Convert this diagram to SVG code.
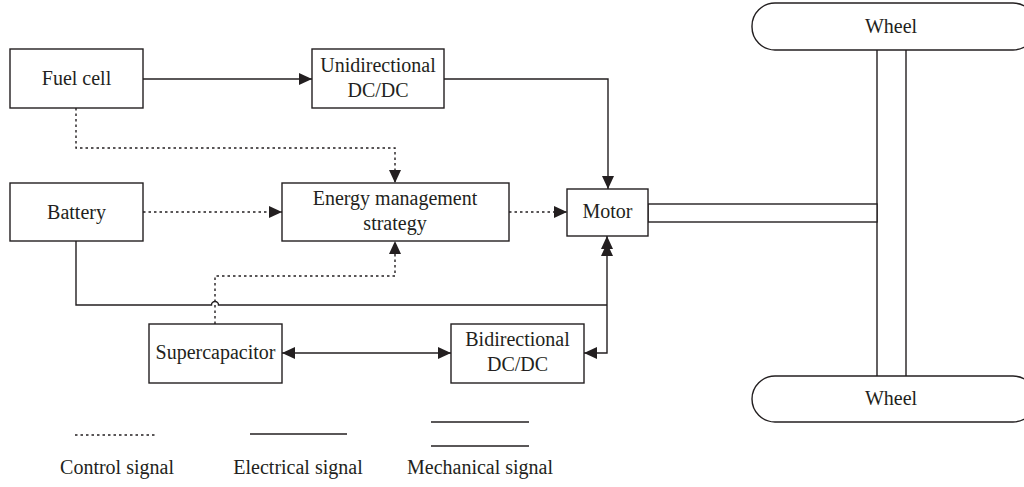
<svg xmlns="http://www.w3.org/2000/svg" width="1024" height="487" viewBox="0 0 1024 487">
<defs>
<marker id="ah" markerUnits="userSpaceOnUse" markerWidth="14" markerHeight="12" refX="13" refY="6" orient="auto-start-reverse">
<path d="M0,0 L13,6 L0,12 Z" fill="#231f20"/>
</marker>
<style>
.box{fill:#fff;stroke:#231f20;stroke-width:1.4}
.t{font-family:"Liberation Serif","DejaVu Serif","Times New Roman",serif;font-size:20px;fill:#231f20;text-anchor:middle}
.e{fill:none;stroke:#231f20;stroke-width:1.4}
.c{fill:none;stroke:#231f20;stroke-width:1.4;stroke-dasharray:2.5 3}
</style>
</defs>
<rect width="1024" height="487" fill="#fff"/>

<g id="mechanical">
<rect class="box" x="877" y="48" width="29" height="330"/>
<rect class="box" x="648" y="204" width="229" height="18"/>
</g>

<g id="wheel-top">
<rect class="box" x="752" y="3" width="284" height="47" rx="23" ry="23"/>
<text class="t" x="891" y="33">Wheel</text>
</g>
<g id="wheel-bottom">
<rect class="box" x="752" y="376" width="284" height="46" rx="23" ry="23"/>
<text class="t" x="891" y="405">Wheel</text>
</g>

<g id="connectors">
<line class="e" x1="143" y1="79" x2="312" y2="79" marker-end="url(#ah)"/>
<path class="e" d="M444,79 H608 V189" marker-end="url(#ah)"/>
<path class="c" d="M76,108 V148 H395 V183" marker-end="url(#ah)"/>
<line class="c" x1="143" y1="212" x2="282" y2="212" marker-end="url(#ah)"/>
<line class="c" x1="509" y1="212" x2="567" y2="212" marker-end="url(#ah)"/>
<path class="c" d="M215,324 V276 H395 V241" marker-end="url(#ah)"/>
<path class="e" d="M76,241 V305 H211.5 A3.5,3.5 0 0 1 218.5,305 H607"/>
<path class="e" d="M607,305 V236" marker-end="url(#ah)"/>
<polygon points="607,243 613,256 601,256" fill="#231f20"/>
<path class="e" d="M607,305 V353 H584" marker-end="url(#ah)"/>
<line class="e" x1="282" y1="353" x2="451" y2="353" marker-start="url(#ah)" marker-end="url(#ah)"/>
</g>

<g id="fuel-cell">
<rect class="box" x="10" y="49" width="133" height="59"/>
<text class="t" x="76.5" y="85">Fuel cell</text>
</g>
<g id="unidirectional">
<rect class="box" x="312" y="49" width="132" height="59"/>
<text class="t" x="378" y="72">Unidirectional</text>
<text class="t" x="378" y="97">DC/DC</text>
</g>
<g id="battery">
<rect class="box" x="10" y="183" width="133" height="58"/>
<text class="t" x="76.5" y="219">Battery</text>
</g>
<g id="energy-management">
<rect class="box" x="282" y="183" width="227" height="58"/>
<text class="t" x="395" y="205">Energy management</text>
<text class="t" x="395" y="230">strategy</text>
</g>
<g id="motor">
<rect class="box" x="567" y="189" width="81" height="47"/>
<text class="t" x="607.5" y="218">Motor</text>
</g>
<g id="supercapacitor">
<rect class="box" x="149" y="324" width="133" height="59"/>
<text class="t" x="215.5" y="359">Supercapacitor</text>
</g>
<g id="bidirectional">
<rect class="box" x="451" y="324" width="133" height="59"/>
<text class="t" x="517.5" y="346">Bidirectional</text>
<text class="t" x="517.5" y="371">DC/DC</text>
</g>

<g id="legend">
<line class="c" x1="75" y1="435" x2="156" y2="435"/>
<text class="t" x="117" y="474">Control signal</text>
<line class="e" x1="250" y1="434" x2="347" y2="434"/>
<text class="t" x="298" y="474">Electrical signal</text>
<line class="e" x1="431" y1="422" x2="529" y2="422"/>
<line class="e" x1="431" y1="446" x2="529" y2="446"/>
<text class="t" x="480" y="474">Mechanical signal</text>
</g>
</svg>
